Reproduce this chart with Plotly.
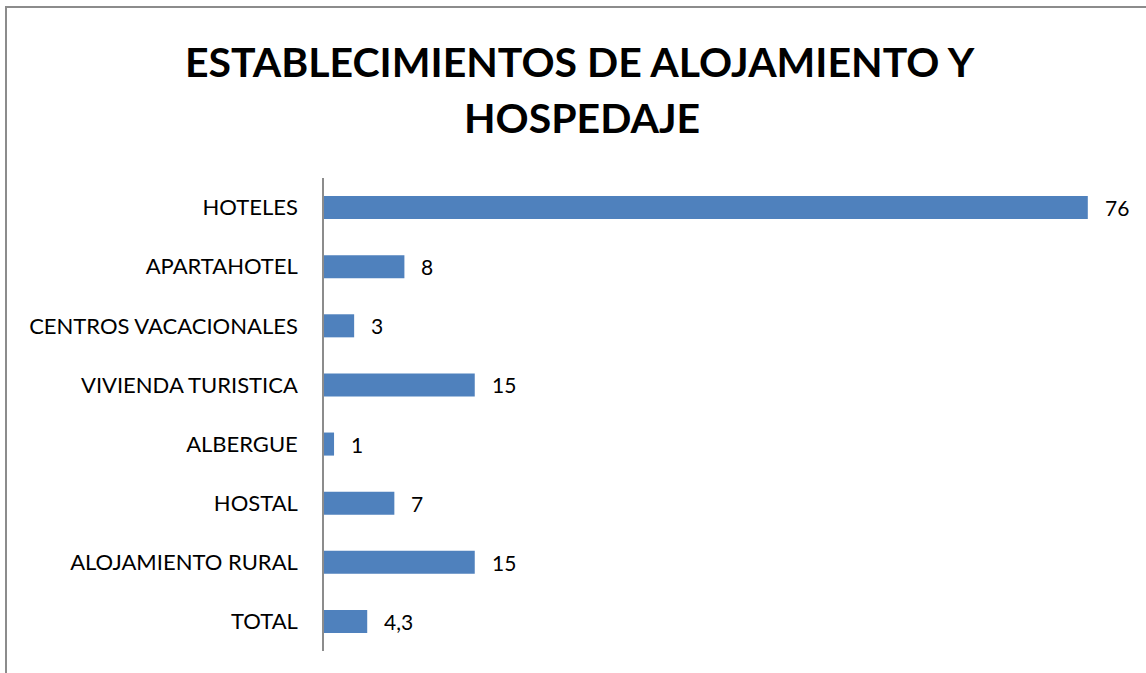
import plotly.graph_objects as go

categories = ["HOTELES", "APARTAHOTEL", "CENTROS VACACIONALES", "VIVIENDA TURISTICA",
              "ALBERGUE", "HOSTAL", "ALOJAMIENTO RURAL", "TOTAL"]
values = [76, 8, 3, 15, 1, 7, 15, 4.3]
labels = [("%g" % v).replace(".", ",") for v in values]
title_lines = ["ESTABLECIMIENTOS DE ALOJAMIENTO Y", "HOSPEDAJE"]

W, H = 1146, 673
L, R, T, B = 324, 18, 178, 22
pw, ph = W - L - R, H - T - B

font_family = "Lato, 'Open Sans', sans-serif"

fig = go.Figure()
fig.add_trace(go.Bar(
    y=categories, x=values, orientation="h",
    marker=dict(color="#4F81BD", line=dict(width=0)),
    hoverinfo="skip",
))

for c, v, t in zip(categories, values, labels):
    fig.add_annotation(x=v, y=c, text=t, xanchor="left", xshift=15, showarrow=False,
                       font=dict(size=21, color="black", family=font_family))

# title as two centered lines
for line, (cx, cy) in zip(title_lines, [(580, 61), (582, 118)]):
    fig.add_annotation(xref="paper", yref="paper",
                       x=(cx - L) / pw, y=1 + (T - cy) / ph,
                       xanchor="center", yanchor="middle", showarrow=False,
                       text="<b>%s</b>" % line,
                       font=dict(size=41, color="black", family=font_family))

# outer chart border (extends beyond right/bottom of image)
fig.add_shape(type="rect", xref="paper", yref="paper",
              x0=(6 - L) / pw, x1=(W + 20 - L) / pw,
              y0=-(B + 20) / ph, y1=1 + (T - 7) / ph,
              line=dict(color="#8C8C8C", width=2), fillcolor="rgba(0,0,0,0)", layer="below")

fig.update_layout(
    width=W, height=H,
    margin=dict(l=L, r=R, t=T, b=B, pad=0),
    paper_bgcolor="white", plot_bgcolor="white",
    showlegend=False,
    bargap=0.61,
    separators=",.",
    xaxis=dict(range=[0, 80], visible=False, showgrid=False, zeroline=False, fixedrange=True),
    yaxis=dict(autorange="reversed", showgrid=False, zeroline=False,
               showline=True, linecolor="#8C8C8C", linewidth=1.5,
               ticks="", ticklabelstandoff=20,
               tickfont=dict(size=22, color="black", family=font_family)),
)

fig.write_html("out.html")
